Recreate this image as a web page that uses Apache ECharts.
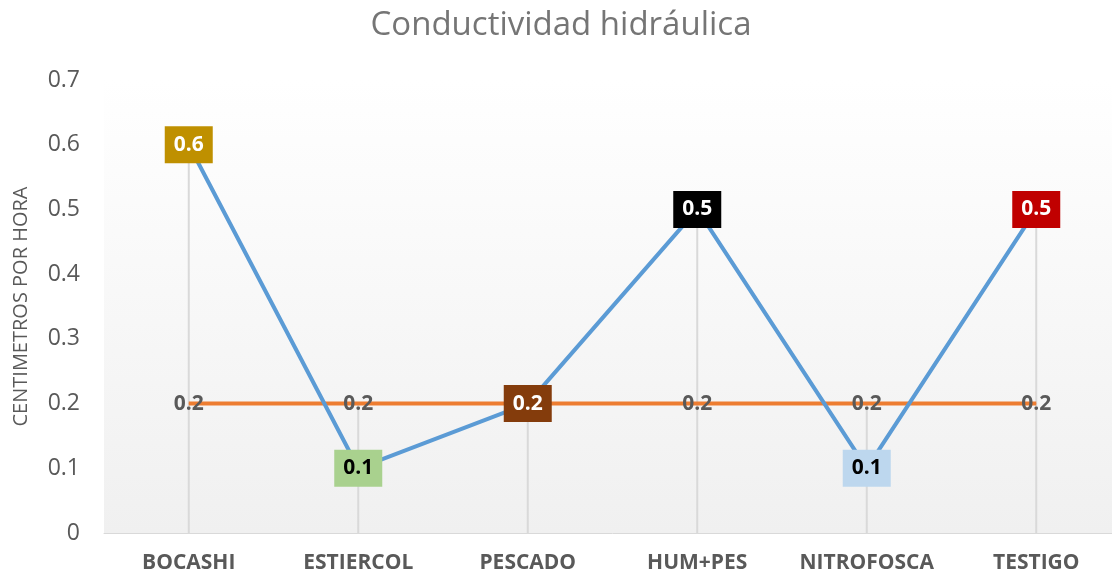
<!DOCTYPE html>
<html>
<head>
<meta charset="utf-8">
<script src="https://cdn.jsdelivr.net/npm/echarts@6/dist/echarts.min.js"></script>
<style>
  html, body { margin: 0; padding: 0; background: #fff; overflow: hidden; }
  /* plot area runs a few pixels past the right edge of the window, as in the original */
  #chart { width: 1121px; height: 575px; }
</style>
</head>
<body>
<div id="chart"></div>
<script>
var categories = ["BOCASHI", "ESTIERCOL", "PESCADO", "HUM+PES", "NITROFOSCA", "TESTIGO"];
var conductividad = [0.6, 0.1, 0.2, 0.5, 0.1, 0.5];
var referencia = [0.2, 0.2, 0.2, 0.2, 0.2, 0.2];
var labelColors = ["#bf9000", "#a9d18e", "#843c0c", "#000000", "#bdd7ee", "#c00000"];
var labelText = ["#ffffff", "#000000", "#ffffff", "#ffffff", "#000000", "#ffffff"];
var yTicks = [0, 0.1, 0.2, 0.3, 0.4, 0.5, 0.6, 0.7];

var chart = echarts.init(document.getElementById("chart"));

// drop lines go from the highest point of each category down to the axis
var dropLines = categories.map(function (c, i) {
    return Math.max(conductividad[i], referencia[i]);
});

var blueData = conductividad.map(function (v, i) {
    return {
        value: v,
        label: {
            backgroundColor: labelColors[i],
            color: labelText[i]
        }
    };
});

var option = {
    animation: false,
    title: {
        text: "Conductividad hidráulica",
        left: 556,
        textAlign: "center",
        top: 4,
        textStyle: {
            fontFamily: "Open Sans",
            fontWeight: "normal",
            fontSize: 33,
            color: "#757575"
        }
    },
    grid: {
        left: 104,
        right: 0,
        top: 80,
        height: 453,
        show: true,
        borderWidth: 0,
        backgroundColor: new echarts.graphic.LinearGradient(0, 0, 0, 1, [
            {offset: 0, color: "#ffffff"},
            {offset: 1, color: "#f0f0f0"}
        ])
    },
    xAxis: {
        type: "category",
        data: categories,
        axisLine: {lineStyle: {color: "#d9d9d9", width: 1}},
        axisTick: {show: false},
        axisLabel: {
            interval: 0,
            margin: 20,
            fontFamily: "Open Sans",
            fontWeight: "bold",
            fontSize: 21,
            color: "#595959"
        }
    },
    yAxis: {
        type: "value",
        min: 0,
        max: 0.7,
        interval: 0.1,
        name: "CENTIMETROS POR HORA",
        nameLocation: "middle",
        nameGap: 73,
        nameTextStyle: {
            fontFamily: "Open Sans",
            fontSize: 20,
            color: "#595959"
        },
        axisLine: {show: false},
        axisTick: {show: false},
        splitLine: {show: false},
        axisLabel: {
            margin: 24,
            fontFamily: "Open Sans",
            fontSize: 23,
            color: "#595959",
            formatter: function (v) {
                var t = yTicks.filter(function (y) { return Math.abs(y - v) < 1e-9; });
                return t.length ? String(t[0]) : "";
            }
        }
    },
    series: [
        {
            type: "bar",
            data: dropLines,
            barWidth: 2,
            itemStyle: {color: "#d9d9d9"},
            silent: true,
            z: 1
        },
        {
            type: "line",
            data: referencia,
            symbol: "circle",
            symbolSize: 0.5,
            showAllSymbol: true,
            itemStyle: {color: "#ed7d31"},
            lineStyle: {color: "#ed7d31", width: 4},
            label: {
                show: true,
                position: "inside",
                fontFamily: "Open Sans",
                fontWeight: "bold",
                fontSize: 21,
                color: "#595959"
            },
            z: 2
        },
        {
            type: "line",
            data: blueData,
            symbol: "circle",
            symbolSize: 0.5,
            showAllSymbol: true,
            itemStyle: {color: "#5b9bd5"},
            lineStyle: {color: "#5b9bd5", width: 4},
            label: {
                show: true,
                position: "inside",
                fontFamily: "Open Sans",
                fontWeight: "bold",
                fontSize: 21,
                lineHeight: 25,
                padding: [6, 6, 6, 6],
                width: 36,
                align: "center"
            },
            z: 3
        }
    ]
};

chart.setOption(option);
</script>
</body>
</html>
